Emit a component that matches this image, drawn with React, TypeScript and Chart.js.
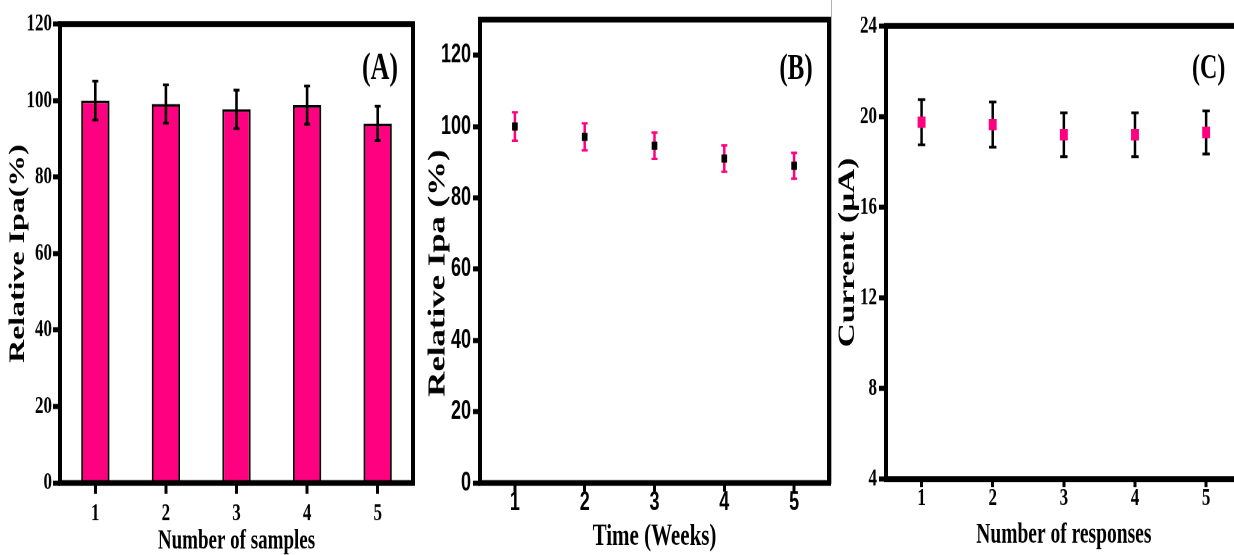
import React, { useEffect, useRef } from 'react';
import { Chart, registerables } from 'chart.js';

Chart.register(...registerables);

// ---------- data ----------
const categories = ['1', '2', '3', '4', '5'];

const samplesIpa = [100, 99.1, 97.7, 98.8, 94.0];
const samplesErr = [5.1, 5.0, 5.0, 5.0, 4.5];

const weeksIpa = [100, 97.1, 94.6, 91.0, 89.0];
const weeksErr = [4.0, 3.8, 3.7, 3.7, 3.6];

const responsesCurrent = [19.75, 19.65, 19.2, 19.2, 19.3];
const responsesErr = [1.0, 1.0, 0.97, 0.97, 0.95];

const ticksA = [0, 20, 40, 60, 80, 100, 120];
const ticksB = [0, 20, 40, 60, 80, 100, 120];
const ticksC = [4, 8, 12, 16, 20, 24];

// ---------- styles ----------
const PINK = '#ff0080';
const SERIF = '"Liberation Serif", "Times New Roman", serif';
const SANS = '"Liberation Sans", Arial, sans-serif';
const H = 383;
const STRETCH = 555 / H;

function errorBars(errors: number[], color: string, lineWidth: number, capHalf: number, capWidth: number, before: boolean) {
  const draw = (chart: any) => {
    const meta = chart.getDatasetMeta(0);
    const ys = chart.scales.y;
    const vals = chart.data.datasets[0].data as number[];
    const ctx = chart.ctx as CanvasRenderingContext2D;
    ctx.save();
    ctx.strokeStyle = color;
    ctx.lineCap = 'butt';
    meta.data.forEach((el: any, i: number) => {
      const v = vals[i];
      const e = errors[i];
      const x = el.x;
      const yt = ys.getPixelForValue(v + e);
      const yb = ys.getPixelForValue(v - e);
      ctx.lineWidth = lineWidth;
      ctx.beginPath();
      ctx.moveTo(x, yt);
      ctx.lineTo(x, yb);
      ctx.stroke();
      ctx.lineWidth = capWidth;
      ctx.beginPath();
      ctx.moveTo(x - capHalf, yt);
      ctx.lineTo(x + capHalf, yt);
      ctx.moveTo(x - capHalf, yb);
      ctx.lineTo(x + capHalf, yb);
      ctx.stroke();
    });
    ctx.restore();
  };
  return before
    ? { id: 'errorBars', beforeDatasetsDraw: draw }
    : { id: 'errorBars', afterDatasetsDraw: draw };
}

function framePlugin(letter: string, fontSize: number) {
  return {
    id: 'frame',
    afterDraw(chart: any) {
      const { left, top, right, bottom } = chart.chartArea;
      const ctx = chart.ctx as CanvasRenderingContext2D;
      ctx.save();
      ctx.strokeStyle = '#000';
      ctx.lineWidth = 4;
      ctx.lineJoin = 'miter';
      ctx.strokeRect(left, top, right - left, bottom - top);
      ctx.font = `bold ${fontSize}px ${SERIF}`;
      ctx.fillStyle = '#000';
      ctx.textAlign = 'center';
      ctx.textBaseline = 'middle';
      ctx.fillText(letter, right - 33, 48);
      ctx.restore();
    },
  };
}

function xScale(o: {
  fam: string; size: number; tl: number; pad: number; title: string; titleSize: number; titlePad: number; height: number;
}) {
  return {
    type: 'category',
    offset: true,
    border: { display: false },
    grid: {
      display: true, drawOnChartArea: false, drawTicks: true, offset: false,
      tickLength: o.tl, tickWidth: 3, tickColor: '#000', color: '#000',
    },
    ticks: { color: '#000', font: { family: o.fam, size: o.size, weight: 'bold' }, padding: o.pad, maxRotation: 0, autoSkip: false },
    title: {
      display: true, text: o.title, color: '#000',
      font: { family: SERIF, size: o.titleSize, weight: 'bold' },
      padding: { top: 0, bottom: o.titlePad },
    },
    afterFit: (s: any) => { s.height = o.height; },
  };
}

function yScale(o: {
  min: number; max: number; vals: number[]; fam: string; size: number; tl: number; pad: number;
  title: string; titleSize: number; titlePad: number; width: number;
}) {
  return {
    type: 'linear',
    min: o.min,
    max: o.max,
    border: { display: false },
    grid: {
      display: true, drawOnChartArea: false, drawTicks: true,
      tickLength: o.tl, tickWidth: 3.5, tickColor: '#000', color: '#000',
    },
    afterBuildTicks: (s: any) => { s.ticks = o.vals.map((v) => ({ value: v })); },
    ticks: { color: '#000', font: { family: o.fam, size: o.size, weight: 'bold' }, padding: o.pad },
    title: {
      display: true, text: o.title, color: '#000',
      font: { family: SERIF, size: o.titleSize, weight: 'bold' },
      padding: { top: o.titlePad, bottom: 0 },
    },
    afterFit: (s: any) => { s.width = o.width; },
  };
}

const common = {
  responsive: true,
  maintainAspectRatio: false,
  animation: false,
  devicePixelRatio: 2,
  events: [],
};

function buildA(): any {
  return {
    type: 'bar',
    data: {
      labels: categories,
      datasets: [{
        data: samplesIpa,
        backgroundColor: PINK,
        borderColor: '#000',
        borderWidth: 1.8,
        barPercentage: 0.4,
        categoryPercentage: 1,
      }],
    },
    options: {
      ...common,
      layout: { padding: { top: 16.6, right: 7, left: 0, bottom: 0 } },
      plugins: { legend: { display: false }, tooltip: { enabled: false } },
      scales: {
        x: xScale({ fam: SERIF, size: 17, tl: 7.5, pad: 3.4, title: 'Number of samples', titleSize: 19, titlePad: -1.8, height: H - 333.3 }),
        y: yScale({ min: 0, max: 120, vals: ticksA, fam: SERIF, size: 17, tl: 7, pad: 1, title: 'Relative Ipa(%)', titleSize: 22, titlePad: 5.1, width: 60 }),
      },
    },
    plugins: [errorBars(samplesErr, '#000', 2.6, 3, 1.9, false), framePlugin('(A)', 26)],
  };
}

function buildB(): any {
  return {
    type: 'line',
    data: {
      labels: categories,
      datasets: [{
        data: weeksIpa,
        showLine: false,
        pointStyle: 'rect',
        pointRadius: 4,
        backgroundColor: '#000',
        borderColor: '#000',
        borderWidth: 0,
      }],
    },
    options: {
      ...common,
      layout: { padding: { top: 13.5, right: 4, left: 0, bottom: 0 } },
      plugins: { legend: { display: false }, tooltip: { enabled: false } },
      scales: {
        x: xScale({ fam: SANS, size: 18, tl: 6, pad: -3, title: 'Time (Weeks)', titleSize: 21, titlePad: 0, height: H - 333.3 }),
        y: yScale({ min: 0, max: 130, vals: ticksB, fam: SANS, size: 18, tl: 7, pad: 2, title: 'Relative Ipa (%)     ', titleSize: 24, titlePad: 3.9, width: 60 }),
      },
    },
    plugins: [errorBars(weeksErr, PINK, 2.5, 3, 1.7, true), framePlugin('(B)', 25)],
  };
}

function buildC(): any {
  return {
    type: 'line',
    data: {
      labels: categories,
      datasets: [{
        data: responsesCurrent,
        showLine: false,
        pointStyle: 'rect',
        pointRadius: 5.6,
        backgroundColor: PINK,
        borderColor: PINK,
        borderWidth: 0,
      }],
    },
    options: {
      ...common,
      layout: { padding: { top: 17.9, right: 8.3, left: 0, bottom: 0 } },
      plugins: { legend: { display: false }, tooltip: { enabled: false } },
      scales: {
        x: xScale({ fam: SERIF, size: 17, tl: 5.5, pad: -2.1, title: 'Number of responses', titleSize: 19.5, titlePad: 2, height: H - 330.6 }),
        y: yScale({ min: 4, max: 24, vals: ticksC, fam: SERIF, size: 17, tl: 7, pad: 2, title: 'Current (μA)', titleSize: 23, titlePad: 1.5, width: 53 }),
      },
    },
    plugins: [errorBars(responsesErr, '#000', 2.5, 3.7, 1.9, true), framePlugin('(C)', 24)],
  };
}

function Panel({ left, width, build }: { left: number; width: number; build: () => any }) {
  const ref = useRef<HTMLCanvasElement>(null);
  useEffect(() => {
    const chart = new Chart(ref.current as HTMLCanvasElement, build());
    return () => chart.destroy();
  }, []);
  return (
    <div
      style={{
        position: 'absolute', left, top: 0, width, height: H,
        transform: `scaleY(${STRETCH})`, transformOrigin: '0 0',
      }}
    >
      <canvas ref={ref} />
    </div>
  );
}

export default function App() {
  return (
    <div
      style={{
        position: 'fixed', left: 0, top: 0, width: 1234, height: 555,
        overflow: 'hidden', background: '#fff',
      }}
    >
      <Panel left={0} width={420} build={buildA} />
      <Panel left={420} width={413} build={buildB} />
      <div style={{ position: 'absolute', left: 831, top: 0, width: 1, height: 484, background: '#b0b0b0' }} />
      <Panel left={833} width={417} build={buildC} />
    </div>
  );
}
